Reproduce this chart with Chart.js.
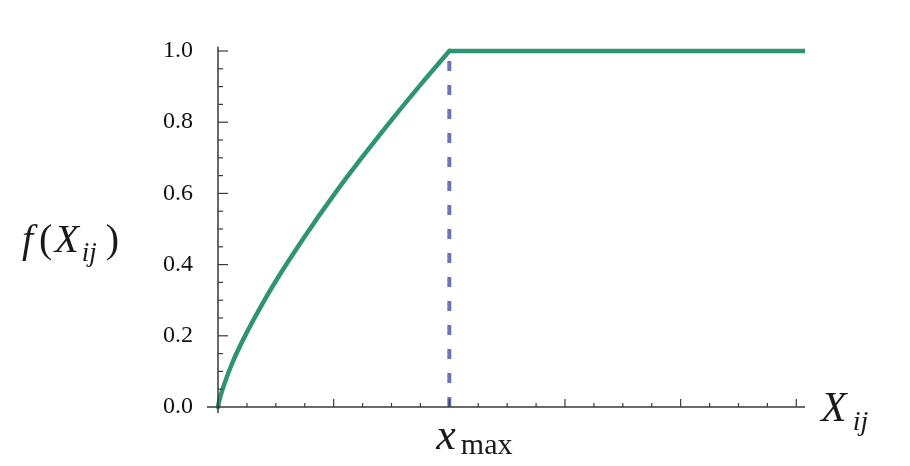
<!DOCTYPE html>
<html>
<head>
<meta charset="utf-8">
<script src="https://cdn.jsdelivr.net/npm/chart.js@4"></script>
<style>
  body { margin: 0; background: #fff; }
  #wrap { width: 910px; height: 466px; }
</style>
</head>
<body>
<div id="wrap"><canvas id="weightChart" width="910" height="466"></canvas></div>
<script>
// values (x in tick units, x_max sits on tick 8)
const riseX = [0, 0.05, 0.2, 0.5, 1, 1.5, 2, 3, 4, 5, 6, 7, 8];
const riseY = [0, 0.02, 0.06, 0.125, 0.21, 0.285, 0.354, 0.479, 0.595, 0.703, 0.806, 0.905, 1.0];
const flatX = [8, 20.3];
const flatY = [1.0, 1.0];
const xMax = 8;
const yTickLabels = ['0.0', '0.2', '0.4', '0.6', '0.8', '1.0'];

const serif = '"Liberation Serif", "DejaVu Serif", serif';

function drawRich(ctx, x, y, parts) {
    // parts: [text, size, italic, dy, extra gap]
    let cx = x;
    parts.forEach(p => {
        ctx.font = (p[2] ? 'italic ' : '') + p[1] + 'px ' + serif;
        ctx.fillText(p[0], cx, y + (p[3] || 0));
        cx += ctx.measureText(p[0]).width + (p[4] || 0);
    });
}

const axesPlugin = {
    id: 'axesPlugin',
    afterDraw(chart) {
        const ctx = chart.ctx;
        const area = chart.chartArea;
        const xs = chart.scales.x, ys = chart.scales.y;
        const x0 = xs.getPixelForValue(0), y0 = ys.getPixelForValue(0);
        ctx.save();
        ctx.strokeStyle = '#3a3a3a';
        ctx.lineWidth = 1.5;
        // axis lines
        ctx.beginPath();
        ctx.moveTo(x0 - 11, y0); ctx.lineTo(area.right, y0);
        ctx.moveTo(x0, ys.getPixelForValue(1.012)); ctx.lineTo(x0, y0 + 6);
        ctx.stroke();
        // y ticks every 0.05, long on labelled values
        ctx.lineWidth = 1.2;
        for (let i = 1; i <= 20; i++) {
            const py = ys.getPixelForValue(i * 0.05);
            const len = i % 4 === 0 ? 10 : 5;
            ctx.beginPath(); ctx.moveTo(x0, py); ctx.lineTo(x0 + len, py); ctx.stroke();
        }
        // x ticks every unit, long every 4
        for (let i = 1; i <= 20; i++) {
            const px = xs.getPixelForValue(i);
            const len = i % 4 === 0 ? 8 : 4;
            ctx.beginPath(); ctx.moveTo(px, y0); ctx.lineTo(px, y0 - len); ctx.stroke();
        }
        // labels
        ctx.fillStyle = '#1a1a1a';
        ctx.textBaseline = 'alphabetic';
        ctx.textAlign = 'left';
        drawRich(ctx, 22, 252, [['f', 40, true, 0, 6], ['(', 40, false, 0, 2], ['X', 40, true, 0, 3], ['ij', 27, true, 9, 9], [')', 40, false]]);
        drawRich(ctx, area.right + 16, y0 + 14, [['X', 42, true, 0, 6], ['ij', 28, true, 9]]);
        const mx = xs.getPixelForValue(xMax);
        drawRich(ctx, mx - 13, y0 + 42, [['x', 44, true, 0, 5], ['max', 30, false, 5]]);
        ctx.restore();
    }
};

new Chart(document.getElementById('weightChart'), {
    type: 'line',
    data: {
        datasets: [{
            data: riseX.map((x, i) => ({ x: x, y: riseY[i] })),
            borderColor: '#2f9474',
            borderWidth: 4.5,
            borderCapStyle: 'round',
            pointRadius: 0,
            cubicInterpolationMode: 'monotone',
            clip: false,
            order: 1
        }, {
            data: flatX.map((x, i) => ({ x: x, y: flatY[i] })),
            borderColor: '#2f9474',
            borderWidth: 4.5,
            pointRadius: 0,
            clip: false,
            order: 1
        }, {
            data: [{ x: xMax, y: 0 }, { x: xMax, y: 0.985 }],
            borderColor: '#7070bd',
            borderWidth: 4,
            borderDash: [10, 14],
            pointRadius: 0,
            clip: false,
            order: 2
        }]
    },
    options: {
        responsive: false,
        animation: false,
        layout: { padding: { left: 158, right: 105, top: 51, bottom: 59 } },
        plugins: { legend: { display: false }, tooltip: { enabled: false } },
        scales: {
            x: {
                type: 'linear', min: 0, max: 20.3,
                grid: { display: false },
                border: { display: false },
                ticks: { display: false },
                afterFit(scale) { scale.height = 0; }
            },
            y: {
                min: 0, max: 1,
                grid: { display: false, drawTicks: false },
                border: { display: false },
                afterFit(scale) { scale.width = 60; },
                afterBuildTicks(scale) {
                    scale.ticks = yTickLabels.map(t => ({ value: parseFloat(t) }));
                },
                ticks: {
                    padding: 25,
                    color: '#111',
                    font: { family: serif, size: 24 },
                    callback: (v) => yTickLabels.find(t => parseFloat(t) === v)
                }
            }
        }
    },
    plugins: [axesPlugin]
});
</script>
</body>
</html>
